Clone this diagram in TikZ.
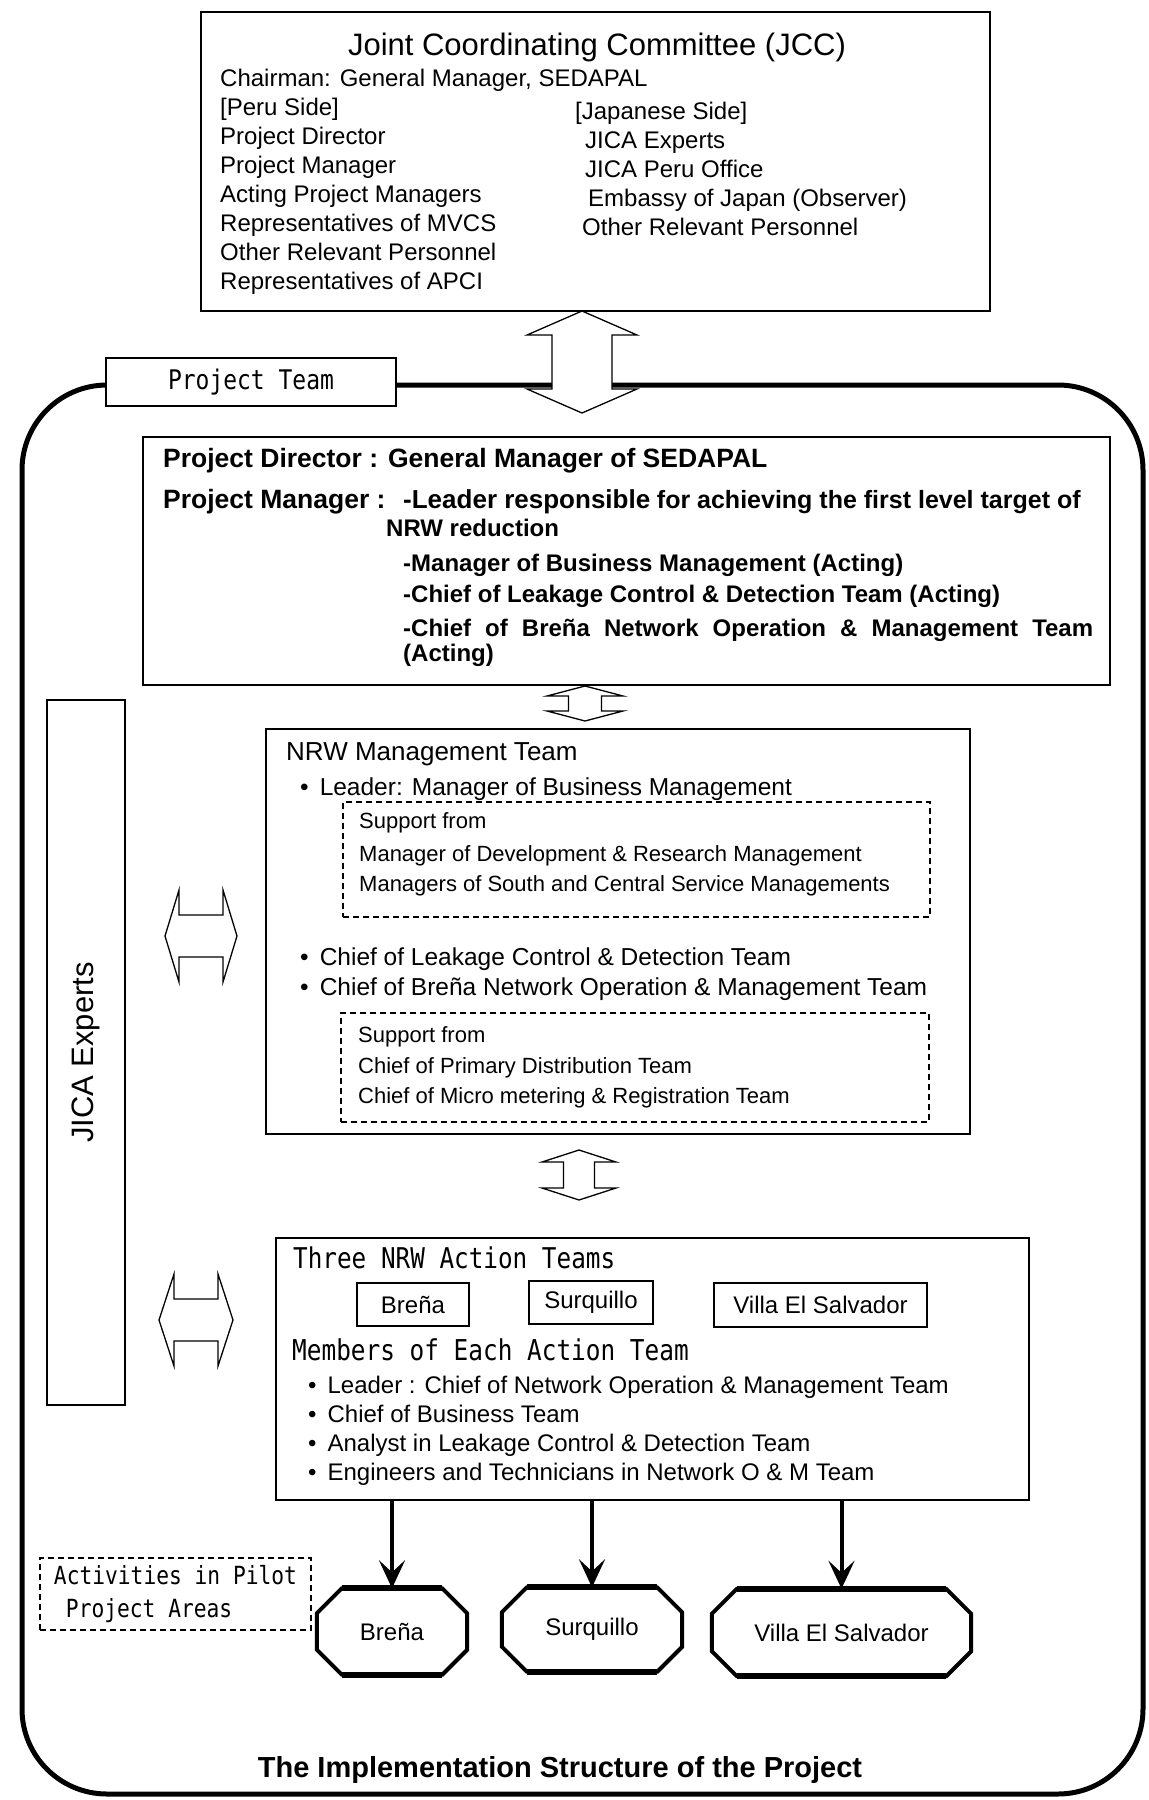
\documentclass[tikz,border=0pt]{standalone}
\usepackage{fontspec}
\setmainfont{Liberation Sans}
\newfontfamily\gothic{DejaVu Sans Mono}[FakeStretch=0.85]
\usetikzlibrary{calc,arrows.meta}

\newcommand\fs[1]{\fontsize{#1}{#1}\selectfont}
\newcommand\bl{\textbullet\hspace{11pt}}
% hollow double arrows: tip, tip, half shaft, half head, head length
\newcommand\vbiarrow[5]{%
  \draw[blockarrow] let \p1=(#1), \p2=(#2) in
    (\x1,\y1) -- (\x1+#4pt,\y1-#5pt) -- (\x1+#3pt,\y1-#5pt)
    -- (\x1+#3pt,\y2+#5pt) -- (\x1+#4pt,\y2+#5pt) -- (\x1,\y2)
    -- (\x1-#4pt,\y2+#5pt) -- (\x1-#3pt,\y2+#5pt)
    -- (\x1-#3pt,\y1-#5pt) -- (\x1-#4pt,\y1-#5pt) -- cycle;}
\newcommand\hbiarrow[5]{%
  \draw[blockarrow] let \p1=(#1), \p2=(#2) in
    (\x1,\y1) -- (\x1+#5pt,\y1+#4pt) -- (\x1+#5pt,\y1+#3pt)
    -- (\x2-#5pt,\y1+#3pt) -- (\x2-#5pt,\y1+#4pt) -- (\x2,\y1)
    -- (\x2-#5pt,\y1-#4pt) -- (\x2-#5pt,\y1-#3pt)
    -- (\x1+#5pt,\y1-#3pt) -- (\x1+#5pt,\y1-#4pt) -- cycle;}

\tikzset{
  box/.style={draw, line width=1.6pt, fill=white, inner sep=0pt},
  dashbox/.style={draw, line width=1.4pt, dash pattern=on 6pt off 4pt, inner sep=0pt},
  txt/.style={anchor=base west, inner sep=0pt},
  jcctext/.style={txt, font=\fs{24}},
  pdtext/.style={txt, font=\bfseries\fs{24}},
  nrwtext/.style={txt, font=\fs{24.5}},
  suptext/.style={txt, font=\fs{22}},
  acttext/.style={txt, font=\fs{24}},
  blockarrow/.style={draw, line width=1.3pt, fill=white, line join=miter},
  flow/.style={line width=4pt, -{Stealth[length=28pt,width=26pt,inset=12pt]}},
  areaedge/.style={line width=4pt, line join=miter},
  area/.style={inner sep=0pt, font=\fs{24}},
}

\begin{document}
\begin{tikzpicture}[x=1pt, y=-1pt]
\fill[white] (0,0) rectangle (1149,1800);
\useasboundingbox (0,0) rectangle (1149,1800);

% project team frame
\draw[line width=5pt, rounded corners=85pt] (22,385) rectangle (1143,1794);
\node[box, minimum width=290pt, minimum height=48pt, font=\gothic\fs{27}] (team) at (251,382) {Project Team};

% JCC
\node[box, minimum width=789pt, minimum height=299pt] (jcc) at (595.5,161.5) {};
\node[txt, anchor=base, font=\fs{31}] (jcctitle) at (597,55) {Joint Coordinating Committee (JCC)};
\foreach \t [count=\i from 0] in {{Chairman: General Manager, SEDAPAL}, {[Peru Side]}, Project Director,
    Project Manager, Acting Project Managers, Representatives of MVCS, Other Relevant Personnel,
    Representatives of APCI}
  \node[jcctext] (jl\i) at (220,86+29*\i) {\t};
\foreach \px/\py/\t [count=\i] in {575/119/{[Japanese Side]}, 585/148/JICA Experts, 585/177/JICA Peru Office,
    588/206/Embassy of Japan (Observer), 582/235/Other Relevant Personnel}
  \node[jcctext] (jr\i) at (\px,\py) {\t};

\coordinate (atop) at (582,311);
\coordinate (abot) at (582,413);
\vbiarrow{atop}{abot}{30}{55}{24}

% project director / manager
\node[box, minimum width=967pt, minimum height=248pt] (pd) at (626.5,561) {};
\node[pdtext, font=\bfseries\fs{26.5}] (pd1) at (163,467.5) {Project Director : General Manager of SEDAPAL};
\node[pdtext, font=\bfseries\fs{26.5}] (pd2) at (163,508.5) {Project Manager :};
\node[pdtext] (pd3) at (403,508.5) {{\fs{26}-Leader responsible} {\fs{25}for achieving the first level target of}};
\node[pdtext] (pd4) at (386,536) {NRW reduction};
\node[pdtext] (pd5) at (403,571.5) {-Manager of Business Management (Acting)};
\node[pdtext] (pd6) at (403,602) {-Chief of Leakage Control \& Detection Team (Acting)};
\node[pdtext] (pd7) at (403,636.5) {\makebox[690pt][s]{-Chief of Breña Network Operation \& Management Team}};
\node[pdtext] (pd8) at (403,661.5) {(Acting)};

\coordinate (btop) at (585,686);
\coordinate (bbot) at (585,721);
\vbiarrow{btop}{bbot}{16.5}{38}{10}

% JICA experts
\node[box, minimum width=78pt, minimum height=705pt] (jica) at (86,1052.5) {};
\node[rotate=90, font=\fs{31}] (jicatext) at (jica.center) {JICA Experts};

% NRW management team
\node[box, minimum width=704pt, minimum height=405pt] (nrw) at (618,931.5) {};
\node[dashbox, minimum width=587pt, minimum height=115pt] (sup1) at (636.5,859.5) {};
\node[dashbox, minimum width=588pt, minimum height=109pt] (sup2) at (635,1067.5) {};
\node[txt, font=\fs{26}] (nrwhead) at (286,760) {NRW Management Team};
\node[nrwtext] (nrw1) at (300,795) {\bl Leader: Manager of Business Management};
\node[suptext] (s11) at (359,828) {Support from};
\node[suptext] (s12) at (359,861) {Manager of Development \& Research Management};
\node[suptext] (s13) at (359,891) {Managers of South and Central Service Managements};
\node[nrwtext] (nrw2) at (300,965) {\bl Chief of Leakage Control \& Detection Team};
\node[nrwtext] (nrw3) at (300,995) {\bl Chief of Breña Network Operation \& Management Team};
\node[suptext] (s21) at (358,1042) {Support from};
\node[suptext] (s22) at (358,1073) {Chief of Primary Distribution Team};
\node[suptext] (s23) at (358,1103) {Chief of Micro metering \& Registration Team};

\coordinate (l1a) at (165,936);
\coordinate (l1b) at (237,936);
\hbiarrow{l1a}{l1b}{21}{46}{14}
\coordinate (ctop) at (579,1150);
\coordinate (cbot) at (579,1200);
\vbiarrow{ctop}{cbot}{15.5}{37}{12}

% action teams
\node[box, minimum width=753pt, minimum height=262pt] (act) at (652.5,1369) {};
\node[txt, font=\gothic\fs{28.6}] (acthead) at (293,1268) {Three NRW Action Teams};
\node[box, minimum width=112pt, minimum height=43pt, font=\fs{24}] (tbrena) at (413,1304.5) {Breña};
\node[box, minimum width=124pt, minimum height=43pt, font=\fs{24}] (tsurq) at (591,1302.5) {Surquillo};
\node[box, minimum width=213pt, minimum height=44pt, font=\fs{24}] (tvilla) at (820.5,1305) {Villa El Salvador};
\node[txt, font=\gothic\fs{28.7}] (members) at (292,1360) {Members of Each Action Team};
\foreach \t [count=\i from 0] in {Leader : Chief of Network Operation \& Management Team, Chief of Business Team,
    Analyst in Leakage Control \& Detection Team, Engineers and Technicians in Network O \& M Team}
  \node[acttext] (am\i) at (308,1393+29.3*\i) {\bl\t};

\coordinate (l2a) at (159,1320);
\coordinate (l2b) at (233,1320);
\hbiarrow{l2a}{l2b}{21}{46}{15}

% pilot areas
\node[dashbox, minimum width=271pt, minimum height=72pt, font=\gothic\fs{25}, align=left] (pilot) at (175.5,1594)
  {Activities in Pilot\\[8pt]\hspace{12pt}Project Areas};
\node[area, minimum width=150pt, minimum height=86pt] (hbrena) at (392,1631.5) {Breña};
\node[area, minimum width=180pt, minimum height=84pt] (hsurq) at (592,1629.5) {Surquillo};
\node[area, minimum width=259pt, minimum height=87pt] (hvilla) at (841.5,1632.5) {Villa El Salvador};
\foreach \h in {hbrena,hsurq,hvilla} {
  \draw[areaedge] ($(\h.north west)+(25,0)$) -- ($(\h.north east)+(-25,0)$) -- ($(\h.north east)+(0,25)$)
    -- ($(\h.south east)+(0,-25)$) -- ($(\h.south east)+(-25,0)$) -- ($(\h.south west)+(25,0)$)
    -- ($(\h.south west)+(0,-25)$) -- ($(\h.north west)+(0,25)$) -- cycle;
  \draw[line width=6pt] ($(\h.north west)+(25,0)$) -- ($(\h.north east)+(-25,0)$)
    ($(\h.south west)+(25,0)$) -- ($(\h.south east)+(-25,0)$);
  \draw[flow] (act.south -| \h.north) -- (\h.north);
}

\node[txt, anchor=base, font=\bfseries\fs{29}] (caption) at (560,1777) {The Implementation Structure of the Project};
\end{tikzpicture}
\end{document}
